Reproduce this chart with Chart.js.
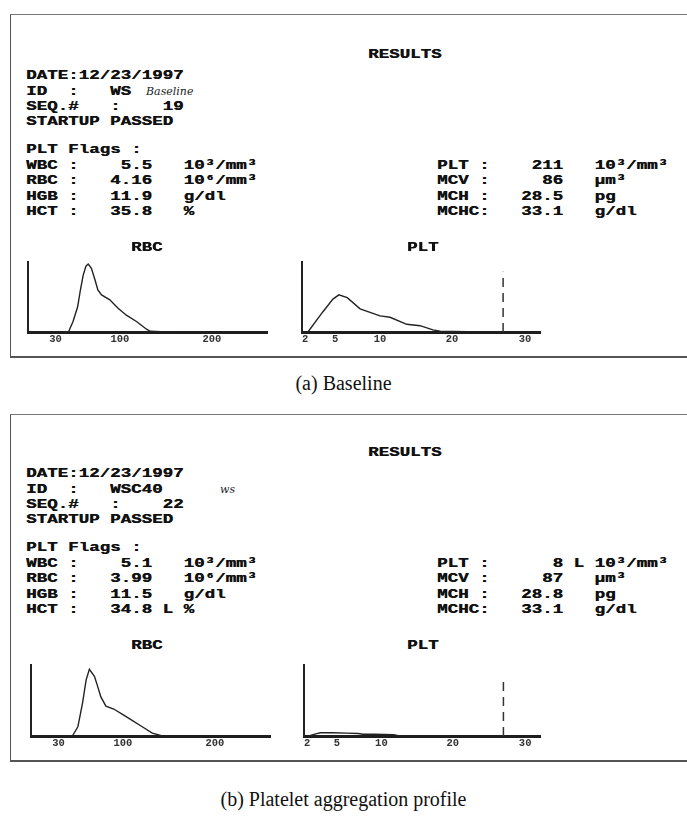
<!DOCTYPE html>
<html>
<head>
<meta charset="utf-8">
<script src="https://cdn.jsdelivr.net/npm/chart.js@4.4.1/dist/chart.umd.min.js"></script>
<style>
  html, body { margin: 0; padding: 0; background: #fff; }
  #page { position: relative; width: 687px; height: 819px; overflow: hidden; background: #fff; }
  .panel { position: absolute; left: 10px; width: 700px; box-sizing: border-box;
           border-left: 1.5px solid #555; border-top: 1.5px solid #777; border-bottom: 2px solid #555; }
  .ln { position: absolute; white-space: pre; font-family: "Liberation Mono", monospace; font-weight: bold;
        font-size: 12.5px; line-height: 16px; color: #111; transform: scaleX(1.4); transform-origin: 0 50%;
        text-shadow: 0.3px 0 0 #111; }
  .hand { position: absolute; white-space: pre; font-family: "DejaVu Serif", serif; font-style: italic;
          font-size: 11px; line-height: 12px; color: #222; }
  .cap { position: absolute; left: 0; width: 687px; text-align: center; font-family: "Liberation Serif", serif;
         font-size: 20px; line-height: 24px; color: #111; }
  canvas { position: absolute; }
</style>
</head>
<body>
<div id="page">
  <div class="panel" style="top:14px;height:344px"></div>
  <div class="panel" style="top:414px;height:348px"></div>
  <div class="cap" style="top:371px">(a) Baseline</div>
  <div class="cap" style="top:787px">(b) Platelet aggregation profile</div>

  <canvas id="rbcA"></canvas>
  <canvas id="pltA"></canvas>
  <canvas id="rbcB"></canvas>
  <canvas id="pltB"></canvas>
</div>

<script>
/* =========================================================
   DATA (read off the printouts)
   y is percent of the histogram's full height
========================================================= */
// RBC volume histogram, x in fL
const rbcTicks = [30, 100, 200];
const rbcTickLabels = ["30", "100", "200"];

const rbcBaseX = [0, 40, 44, 49, 54, 57, 60, 63, 65.5, 69, 73, 76, 80, 89, 98, 107, 118, 129, 133, 145, 160];
const rbcBaseY = [0, 0, 0, 15, 36, 60, 81, 94, 97, 91, 74, 60, 53, 46, 34, 24, 15, 4, 1, 0.5, 0];

const rbcAggX = [0, 45, 51, 56, 60, 63.5, 69, 72, 76, 81.5, 90, 100, 110, 121, 132, 143];
const rbcAggY = [0, 0, 13, 46, 79, 94, 84, 72, 55, 42, 38, 30, 22, 13, 4, 0];

// PLT histogram, x in analyser channels (0-100), labelled in fL
const pltTicks = [1.3, 13.9, 32.8, 63, 93.7];
const pltTickLabels = ["2", "5", "10", "20", "30"];

const pltBaseX = [2.5, 8.8, 13, 15.5, 19, 24.4, 32.8, 37, 44, 49.6, 55, 58, 75];
const pltBaseY = [0, 29, 47, 53, 49, 33, 23, 21, 11, 9, 3, 1, 0];

const pltAggX = [2, 5, 7, 12, 18, 23, 25, 30, 38, 40, 60];
const pltAggY = [0, 3, 4.5, 4.5, 4, 3.5, 2.5, 2.5, 2, 0.5, 0];

// upper PLT discriminator (dashed marker)
const pltCutoff = 84.5;
const pltCutoffHeight = [86, 83];

/* =========================================================
   REPORT TEXT
========================================================= */
const reportA = {
  id: "ID  :   WS", hand: "Baseline", seq: "SEQ.#   :    19",
  left: ["WBC :    5.5   10³/mm³", "RBC :   4.16   10⁶/mm³", "HGB :   11.9   g/dl", "HCT :   35.8   %"],
  right: ["PLT :    211   10³/mm³", "MCV :     86   µm³", "MCH :   28.5   pg", "MCHC:   33.1   g/dl"]
};
const reportB = {
  id: "ID  :   WSC40", hand: "ws", seq: "SEQ.#   :    22",
  left: ["WBC :    5.1   10³/mm³", "RBC :   3.99   10⁶/mm³", "HGB :   11.5   g/dl", "HCT :   34.8 L %"],
  right: ["PLT :      8 L 10³/mm³", "MCV :     87   µm³", "MCH :   28.8   pg", "MCHC:   33.1   g/dl"]
};

const page = document.getElementById("page");

function addText(cls, x, y, text) {
  const d = document.createElement("div");
  d.className = cls;
  d.style.left = x + "px";
  d.style.top = (y - 8) + "px";
  d.textContent = text;
  page.appendChild(d);
}

function renderReport(r, dy, handX) {
  addText("ln", 368, 55 + dy, "RESULTS");
  addText("ln", 26, 76 + dy, "DATE:12/23/1997");
  addText("ln", 26, 92 + dy, r.id);
  addText("hand", handX, 94 + dy, r.hand);
  addText("ln", 26, 107 + dy, r.seq);
  addText("ln", 26, 122 + dy, "STARTUP PASSED");
  addText("ln", 26, 150 + dy, "PLT Flags :");
  r.left.forEach((t, i) => addText("ln", 26, 166 + dy + i * 15.4, t));
  r.right.forEach((t, i) => addText("ln", 437, 166 + dy + i * 15.4, t));
  addText("ln", 131, 248 + dy, "RBC");
  addText("ln", 407, 248 + dy, "PLT");
}

renderReport(reportA, 0, 146);
renderReport(reportB, 398, 220);

/* =========================================================
   HISTOGRAMS
========================================================= */
function toPoints(xs, ys) {
  return xs.map((x, i) => ({ x, y: ys[i] }));
}

function histogram(id, box, xMax, datasets, ticks, labels) {
  const canvas = document.getElementById(id);
  const pad = 10;
  canvas.width = box.w + pad * 2;
  canvas.height = box.h + pad + 16;
  canvas.style.left = (box.left - pad) + "px";
  canvas.style.top = (box.top - pad) + "px";

  return new Chart(canvas, {
    type: "line",
    data: { datasets },
    options: {
      responsive: false,
      animation: false,
      devicePixelRatio: 1,
      layout: { padding: { left: pad, right: pad, top: pad, bottom: 4 } },
      plugins: { legend: { display: false }, tooltip: { enabled: false } },
      elements: { point: { radius: 0 }, line: { tension: 0 } },
      scales: {
        x: {
          type: "linear",
          min: 0,
          max: xMax,
          afterFit: s => { s.height = 12; },
          afterBuildTicks: s => { s.ticks = ticks.map(v => ({ value: v })); },
          grid: { display: false, drawTicks: false },
          border: { color: "#1e1e1e", width: 3 },
          ticks: {
            autoSkip: false,
            maxRotation: 0,
            padding: 1,
            color: "#333",
            font: { family: "Liberation Mono", size: 10.5, weight: "bold" },
            callback: (v, i) => labels[i]
          }
        },
        y: {
          min: 0,
          max: 100,
          afterFit: s => { s.width = 0; },
          grid: { display: false, drawTicks: false },
          border: { color: "#222", width: 2 },
          ticks: { display: false }
        }
      }
    }
  });
}

function curve(xs, ys) {
  return { data: toPoints(xs, ys), borderColor: "#222", borderWidth: 1.4, fill: false };
}

function cutoff(h) {
  return {
    data: [{ x: pltCutoff, y: 0 }, { x: pltCutoff, y: h }],
    borderColor: "#333", borderWidth: 1.5, borderDash: [9, 6], fill: false
  };
}

histogram("rbcA", { left: 28, top: 262, w: 239, h: 70 }, 260,
  [curve(rbcBaseX, rbcBaseY)], rbcTicks, rbcTickLabels);
histogram("pltA", { left: 302, top: 262, w: 238, h: 70 }, 100,
  [curve(pltBaseX, pltBaseY), cutoff(pltCutoffHeight[0])], pltTicks, pltTickLabels);
histogram("rbcB", { left: 31, top: 665, w: 239, h: 71 }, 260,
  [curve(rbcAggX, rbcAggY)], rbcTicks, rbcTickLabels);
histogram("pltB", { left: 304, top: 665, w: 236, h: 71 }, 100,
  [curve(pltAggX, pltAggY), cutoff(pltCutoffHeight[1])], pltTicks, pltTickLabels);
</script>
</body>
</html>
